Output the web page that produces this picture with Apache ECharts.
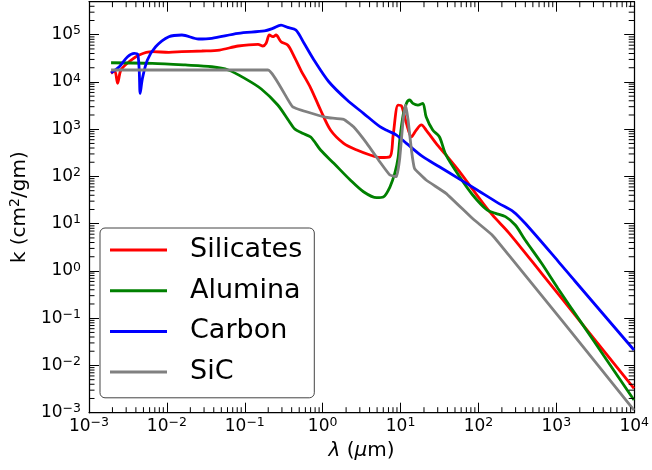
<!DOCTYPE html>
<html><head><meta charset="utf-8">
<script src="https://cdn.jsdelivr.net/npm/echarts@6/dist/echarts.min.js"></script>
<style>html,body{margin:0;padding:0;background:#fff}#c{width:652px;height:470px}</style>
</head><body><div id="c"></div>
<script>
// ---- data (wavelength in micron, opacity k in cm^2/gm) ----
const seriesNames = ['Silicates', 'Alumina', 'Carbon', 'SiC'];
const seriesColors = ['#ff0000', '#008000', '#0000ff', '#808080'];
const seriesSmooth = [0.3, 0.3, 0.3, 0.12];

const silicates = [
  [1.92e-3,1.52e4],[2.14e-3,1.71e4],[2.33e-3,9.4e3],[2.57e-3,1.79e4],[3.29e-3,2.69e4],[4.41e-3,3.72e4],
  [6.5e-3,4.37e4],[1.06e-2,4.25e4],[1.56e-2,4.37e4],[2.81e-2,4.52e4],[4.75e-2,4.74e4],[8.22e-2,5.77e4],
  [0.148,6.27e4],[0.171,5.77e4],[0.188,6.58e4],[0.207,9.86e4],[0.229,9.08e4],[0.252,9.86e4],[0.292,7.11e4],
  [0.355,6.05e4],[0.411,4.04e4],[0.524,1.79e4],[0.702,7.45e3],[0.94,2.55e3],[1.26,961],[1.86,503],
  [2.75,363],[4.06,285],[5.44,252],[7.3,262],[8.04,753],[9.29,3250],[10.3,3100],[11.9,1330],[13.8,693],
  [15.9,961],[18.5,1230],[21.3,961],[28.6,503],[38.3,285],[56.5,130],[92,44],[150,15.5],[244,6.5],
  [647,0.891],[2080,0.081],[9930,3.28e-3]
];
const alumina = [
  [1.92e-3,2.55e4],[6.5e-3,2.48e4],[1.72e-2,2.29e4],[3.77e-2,2.1e4],[6.14e-2,1.79e4],[9.98e-2,1.19e4],
  [0.163,7.1e3],[0.265,3.25e3],[0.369,1.49e3],[0.431,1.04e3],[0.551,819],[0.702,684],[0.94,363],
  [1.39,190],[2.26,84.1],[3.34,47.5],[4.94,35.5],[6.0,36.7],[7.3,59.8],[8.44,117],[9.29,246],[9.77,590],
  [10.8,2000],[11.9,3530],[13.1,4150],[14.4,3530],[16.7,3250],[19.3,3530],[21.3,1840],[25.9,961],
  [31.5,693],[38.3,285],[56.5,102],[83.4,41.5],[129,19.5],[166,16.6],[222,14.1],[297,9.38],[398,4.52],
  [647,1.45],[1050,0.426],[2080,0.0815],[4550,0.0123],[9930,1.86e-3]
];
const carbon = [
  [1.92e-3,1.57e4],[2.45e-3,2.1e4],[3.13e-3,3.42e4],[3.81e-3,4.04e4],[4.2e-3,3.91e4],[4.41e-3,1.79e4],
  [4.54e-3,5.75e3],[4.85e-3,1.19e4],[5.62e-3,2.92e4],[7.17e-3,5.57e4],[1.06e-2,9.08e4],[1.56e-2,9.86e4],
  [2.55e-2,8.11e4],[3.77e-2,8.39e4],[8.22e-2,1.07e5],[0.179,1.2e5],[0.229,1.36e5],[0.292,1.6e5],
  [0.355,1.43e5],[0.453,1.26e5],[0.577,6.58e4],[0.773,2.92e4],[1.2,1.01e4],[2.06,4150],[3.34,2170],
  [5.44,1130],[6.93,916],[8.87,753],[11.9,503],[19.3,262],[31.5,161],[56.5,89.1],[101,49.2],[182,27],
  [282,17.9],[398,10.2],[1050,1.62],[1720,0.62],[9930,0.0212]
];
const sic = [
  [1.92e-3,1.79e4],[0.198,1.79e4],[0.411,2990],[0.773,2100],[1.14,1770],[1.86,1620],[2.49,1130],
  [3.69,503],[5.44,202],[7.3,107],[8.87,98.9],[9.77,246],[10.8,1570],[11.6,3250],[12.5,1570],[13.8,363],
  [15.1,149],[21.3,84.1],[38.3,44],[83.4,13],[150,5.77],[244,2.18],[1280,0.076],[9930,1.14e-3]
];
const seriesData = [silicates, alumina, carbon, sic];

// ---- axes ----
const xRange = [1e-3, 1e4];
const yRange = [1e-3, 5e5];
const xMinorTicks = [];
for (let e = -3; e < 4; e++) for (let m = 2; m <= 9; m++) xMinorTicks.push(m * Math.pow(10, e));
const yMinorTicks = [];
for (let e = -3; e <= 5; e++) for (let m = 2; m <= 9; m++) { const v = m * Math.pow(10, e); if (v < 4.99e5) yMinorTicks.push(v); }

const FONT = 'DejaVu Sans';
function sci(v) {
  const e = Math.log10(v), r = Math.round(e);
  if (Math.abs(e - r) > 1e-6) return '';
  return '{b|10}{e|' + (r < 0 ? '\u2212' + (-r) : String(r)) + '}';
}
const tickRich = {
  b: { fontSize: 17, fontFamily: FONT, color: '#000' },
  e: { fontSize: 12.5, fontFamily: FONT, color: '#000', padding: [0, 0, 7, 0] }
};
const axLine = { show: true, onZero: false, lineStyle: { color: '#000', width: 1.25 } };
const axTick = { show: true, inside: true, length: 10, lineStyle: { color: '#000', width: 1 } };

function baseAxis(range, extra) {
  return Object.assign({
    type: 'log', logBase: 10, min: range[0], max: range[1], splitNumber: 10,
    axisLine: axLine, axisTick: axTick, splitLine: { show: false }, minorTick: { show: false }
  }, extra);
}

const chart = echarts.init(document.getElementById('c'), null, { renderer: 'canvas' });

function minorSeries(vals, isX) {
  return {
    type: 'custom', name: isX ? '_mx' : '_my', silent: true, clip: false, z: 5,
    xAxisIndex: 0, yAxisIndex: 0,
    data: vals.map(v => isX ? [v, 1] : [1, v]),
    renderItem: function (params, api) {
      const cs = params.coordSys;
      const st = { stroke: '#000', lineWidth: 1 };
      if (isX) {
        const px = api.coord([api.value(0), 1])[0];
        const yb = cs.y + cs.height, yt = cs.y;
        return { type: 'group', children: [
          { type: 'line', shape: { x1: px, y1: yb, x2: px, y2: yb - 5.5 }, style: st },
          { type: 'line', shape: { x1: px, y1: yt, x2: px, y2: yt + 5.5 }, style: st }
        ] };
      } else {
        const py = api.coord([1, api.value(1)])[1];
        const xl = cs.x, xr = cs.x + cs.width;
        return { type: 'group', children: [
          { type: 'line', shape: { x1: xl, y1: py, x2: xl + 5.5, y2: py }, style: st },
          { type: 'line', shape: { x1: xr, y1: py, x2: xr - 5.5, y2: py }, style: st }
        ] };
      }
    }
  };
}

const lineSeries = seriesNames.map((n, i) => ({
  type: 'line', name: n, data: seriesData[i], showSymbol: false, symbol: 'none',
  smooth: seriesSmooth[i],
  color: seriesColors[i], itemStyle: { color: seriesColors[i] },
  lineStyle: { color: seriesColors[i], width: 2.8 }, z: 2 + i * 0.01, clip: true
}));

chart.setOption({
  animation: false,
  backgroundColor: '#fff',
  textStyle: { fontFamily: FONT },
  grid: { left: 86, right: 15, top: 1.7, bottom: 57.3, containLabel: false },
  xAxis: [
    baseAxis(xRange, {
      position: 'bottom',
      axisLabel: { formatter: sci, rich: tickRich, margin: 4, color: '#000' },
      name: '{i|\u03bb} ({i|\u03bc}m)', nameLocation: 'middle', nameGap: 28,
      nameTextStyle: { fontSize: 20, fontFamily: FONT, color: '#000',
        rich: { i: { fontSize: 20, fontFamily: FONT, fontStyle: 'italic', color: '#000' } } }
    }),
    baseAxis(xRange, { position: 'top', axisLabel: { show: false } })
  ],
  yAxis: [
    baseAxis(yRange, {
      position: 'left',
      axisLabel: { formatter: sci, rich: tickRich, margin: 8, color: '#000' },
      name: 'k (cm{s|2}/gm)', nameLocation: 'middle', nameGap: 58, nameRotate: 90,
      nameTextStyle: { fontSize: 20, fontFamily: FONT, color: '#000',
        rich: { s: { fontSize: 14, fontFamily: FONT, color: '#000', padding: [0, 0, 9, 0] } } }
    }),
    baseAxis(yRange, { position: 'right', axisLabel: { show: false } })
  ],
  legend: {
    data: seriesNames, orient: 'vertical', left: 100, top: 228,
    icon: 'rect', itemWidth: 57, itemHeight: 3, itemGap: 10.7,
    padding: [7, 12, 10.7, 10],
    backgroundColor: 'rgba(255,255,255,0.8)', borderColor: '#444', borderWidth: 1, borderRadius: 5,
    textStyle: { fontSize: 27, fontFamily: FONT, color: '#000', lineHeight: 30, padding: [0, 0, 0, 18] },
    selectedMode: false
  },
  series: lineSeries.concat([minorSeries(xMinorTicks, true), minorSeries(yMinorTicks, false)])
});
</script></body></html>
